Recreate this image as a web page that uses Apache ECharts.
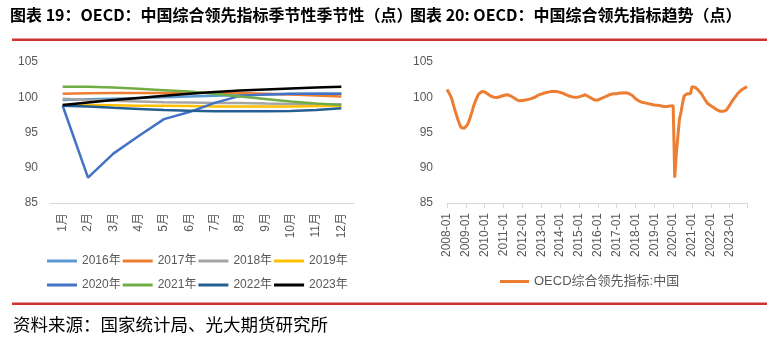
<!DOCTYPE html>
<html>
<head>
<meta charset="utf-8">
<script src="https://cdn.jsdelivr.net/npm/echarts@6/dist/echarts.min.js"></script>
<style>
  html, body { margin: 0; padding: 0; background: #fff; }
  #chart { width: 780px; height: 339px; }
</style>
</head>
<body>
<div id="chart"></div>
<script>
// Month categories for the seasonal panel
const monthLabels = ['1月', '2月', '3月', '4月', '5月', '6月', '7月', '8月', '9月', '10月', '11月', '12月'];

// OECD composite leading indicator for China, by year (points)
const cli2008 = [101.1, 100.7, 100.3, 99.8, 99.0, 98.2, 97.5, 96.8, 96.2, 95.7, 95.5, 95.6];
const cli2009 = [95.8, 96.1, 96.6, 97.3, 98.0, 98.8, 99.4, 99.9, 100.4, 100.65, 100.8, 100.85];
const cli2010 = [100.75, 100.6, 100.45, 100.3, 100.15, 100.05, 100.0, 99.98, 99.96, 100.0, 100.1, 100.2];
const cli2011 = [100.25, 100.3, 100.35, 100.35, 100.25, 100.1, 100.0, 99.85, 99.7, 99.6, 99.5, 99.5];
const cli2012 = [99.55, 99.6, 99.6, 99.65, 99.7, 99.75, 99.85, 99.9, 100.0, 100.15, 100.3, 100.35];
const cli2013 = [100.45, 100.5, 100.6, 100.65, 100.7, 100.75, 100.8, 100.8, 100.8, 100.8, 100.8, 100.75];
const cli2014 = [100.7, 100.65, 100.55, 100.45, 100.35, 100.25, 100.15, 100.1, 100.05, 100.0, 100.0, 100.0];
const cli2015 = [100.05, 100.1, 100.2, 100.3, 100.35, 100.25, 100.1, 99.95, 99.85, 99.7, 99.6, 99.55];
const cli2016 = [99.6, 99.7, 99.8, 99.9, 100.0, 100.1, 100.2, 100.3, 100.4, 100.45, 100.5, 100.5];
const cli2017 = [100.5, 100.55, 100.6, 100.6, 100.6, 100.65, 100.65, 100.6, 100.5, 100.4, 100.25, 100.1];
const cli2018 = [99.8, 99.6, 99.5, 99.4, 99.3, 99.25, 99.2, 99.2, 99.1, 99.05, 99.0, 99.0];
const cli2019 = [98.9, 98.9, 98.85, 98.8, 98.8, 98.75, 98.7, 98.7, 98.7, 98.7, 98.75, 98.8];
const cli2020 = [98.8, 88.6, 92.0, 94.5, 96.9, 97.9, 99.2, 100.2, 100.4, 100.5, 100.5, 100.5];
const cli2021 = [101.5, 101.5, 101.4, 101.2, 101.0, 100.8, 100.5, 100.1, 99.75, 99.4, 99.1, 98.9];
const cli2022 = [98.8, 98.7, 98.5, 98.35, 98.2, 98.1, 98.0, 98.0, 98.0, 98.05, 98.2, 98.45];
const cli2023 = [98.9, 99.25, 99.6, 99.9, 100.2, 100.5, 100.75, 100.95, 101.1, 101.25, 101.4, 101.5];

// Years shown in the seasonal panel, with their colours
const seasonalNames = ['2016年', '2017年', '2018年', '2019年', '2020年', '2021年', '2022年', '2023年'];
const seasonalData = [cli2016, cli2017, cli2018, cli2019, cli2020, cli2021, cli2022, cli2023];
const seasonalColors = ['#5B9BD5', '#ED7D31', '#A5A5A5', '#FFC000', '#4472C4', '#70AD47', '#255E91', '#000000'];

// Full monthly history for the trend panel
const trendYears = [2008, 2009, 2010, 2011, 2012, 2013, 2014, 2015, 2016, 2017, 2018, 2019, 2020, 2021, 2022, 2023];
const trendByYear = [cli2008, cli2009, cli2010, cli2011, cli2012, cli2013, cli2014, cli2015,
                     cli2016, cli2017, cli2018, cli2019, cli2020, cli2021, cli2022, cli2023];
const trendName = 'OECD综合领先指标:中国';

const trendDates = [];
const trendValues = [];
trendYears.forEach(function (y, i) {
  trendByYear[i].forEach(function (v, m) {
    trendDates.push(y + '-' + String(m + 1).padStart(2, '0'));
    trendValues.push(v);
  });
});
const lastIdx = trendDates.length - 1;

const labelFont = 'Liberation Sans, Arial, Noto Sans CJK SC, sans-serif';
const grey = '#595959';

const chart = echarts.init(document.getElementById('chart'), null, { renderer: 'canvas' });

const seasonalSeries = seasonalNames.map(function (name, i) {
  return {
    name: name,
    type: 'line',
    xAxisIndex: 0,
    yAxisIndex: 0,
    data: seasonalData[i],
    showSymbol: false,
    symbol: 'none',
    lineStyle: { width: 2.5, color: seasonalColors[i] },
    itemStyle: { color: seasonalColors[i] },
    emphasis: { disabled: true },
    z: 2 + i
  };
});

const yAxisCommon = {
  type: 'value',
  min: 85,
  max: 105,
  interval: 5,
  axisLine: { show: false },
  axisTick: { show: false },
  splitLine: { show: false },
  axisLabel: { color: grey, fontSize: 12, fontFamily: labelFont }
};

const legendCommon = {
  icon: 'rect',
  itemWidth: 30,
  itemHeight: 3,
  itemGap: 2,
  orient: 'horizontal',
  selectedMode: false,
  textStyle: { color: grey, fontSize: 12, fontFamily: labelFont }
};

chart.setOption({
  animation: false,
  backgroundColor: '#fff',
  grid: [
    { left: 50, top: 62, width: 304, height: 141 },
    { left: 447, top: 62, width: 300, height: 141 }
  ],
  xAxis: [
    {
      type: 'category',
      gridIndex: 0,
      data: monthLabels,
      boundaryGap: true,
      axisLine: { lineStyle: { color: '#D9D9D9', width: 1 } },
      axisTick: { show: false },
      axisLabel: { rotate: 90, margin: 10, color: grey, fontSize: 12, fontFamily: labelFont }
    },
    {
      type: 'category',
      gridIndex: 1,
      data: trendDates,
      boundaryGap: false,
      axisLine: { lineStyle: { color: '#D9D9D9', width: 1 } },
      axisTick: {
        show: true,
        length: 5,
        lineStyle: { color: '#D9D9D9' },
        interval: function (idx) { return idx % 12 === 0 || idx === lastIdx; }
      },
      axisLabel: {
        rotate: 90,
        margin: 10,
        color: grey,
        fontSize: 12,
        fontFamily: labelFont,
        interval: function (idx) { return idx % 12 === 0; }
      }
    }
  ],
  yAxis: [
    Object.assign({ gridIndex: 0 }, yAxisCommon, { axisLabel: Object.assign({}, yAxisCommon.axisLabel, { margin: 12 }) }),
    Object.assign({ gridIndex: 1 }, yAxisCommon, { axisLabel: Object.assign({}, yAxisCommon.axisLabel, { margin: 14 }) })
  ],
  legend: [
    Object.assign({}, legendCommon, { left: 42, top: 250, data: seasonalNames.slice(0, 4) }),
    Object.assign({}, legendCommon, { left: 42, top: 274, data: seasonalNames.slice(4) }),
    Object.assign({}, legendCommon, {
      left: 495, top: 270, itemWidth: 29,
      textStyle: { color: grey, fontSize: 13, fontFamily: labelFont },
      data: [trendName]
    })
  ],
  series: seasonalSeries.concat([
    {
      name: trendName,
      type: 'line',
      xAxisIndex: 1,
      yAxisIndex: 1,
      data: trendValues,
      showSymbol: false,
      symbol: 'none',
      lineStyle: { width: 3, color: '#ED7D31' },
      itemStyle: { color: '#ED7D31' },
      emphasis: { disabled: true }
    }
  ]),
  graphic: [
    {
      type: 'text', left: 10, top: 7,
      style: {
        text: '图表 19：OECD：中国综合领先指标季节性季节性（点）',
        fill: '#000', fontSize: 16, fontWeight: 'bold', fontFamily: 'Noto Sans CJK SC, sans-serif'
      }
    },
    {
      type: 'text', left: 410, top: 7,
      style: {
        text: '图表 20: OECD：中国综合领先指标趋势（点）',
        fill: '#000', fontSize: 16, fontWeight: 'bold', fontFamily: 'Noto Sans CJK SC, sans-serif'
      }
    },
    {
      type: 'rect', left: 12, top: 38.5,
      shape: { width: 755, height: 2.5 },
      style: { fill: '#CC3333' }
    },
    {
      type: 'rect', left: 12, top: 302.5,
      shape: { width: 755, height: 2.5 },
      style: { fill: '#CC3333' }
    },
    {
      type: 'text', left: 13, top: 316,
      style: {
        text: '资料来源：国家统计局、光大期货研究所',
        fill: '#000', fontSize: 17.5, fontFamily: 'Noto Sans CJK SC, sans-serif'
      }
    }
  ]
});
</script>
</body>
</html>
